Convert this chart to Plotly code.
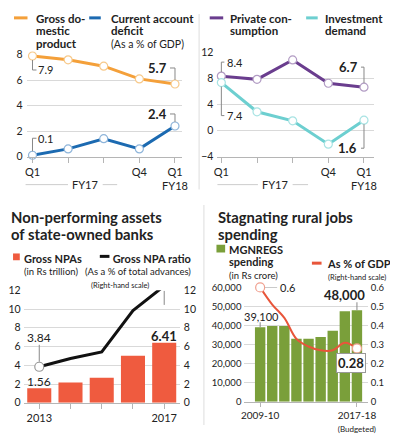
import plotly.graph_objects as go

# ---------------- data ----------------
quarters = ["Q1", "Q2", "Q3", "Q4", "Q1 FY18"]
quarter_ticktext = ["Q1", "", "", "Q4", "Q1<br>FY18"]
gdp_growth = [7.9, 7.6, 7.1, 6.1, 5.7]
current_account_deficit = [0.1, 0.6, 1.4, 0.6, 2.4]
private_consumption = [8.4, 7.9, 10.9, 7.3, 6.7]
investment_demand = [7.4, 2.9, 1.5, -2.1, 1.6]

npa_years = ["2013", "2014", "2015", "2016", "2017"]
npa_ticktext = ["2013", "", "", "", "2017"]
gross_npas = [1.56, 2.16, 2.67, 5.02, 6.41]
gross_npa_ratio = [3.84, 4.72, 5.43, 9.83, 12.47]

mgnregs_years = ["2009-10", "2010-11", "2011-12", "2012-13", "2013-14",
                 "2014-15", "2015-16", "2016-17", "2017-18"]
mgnregs_ticktext = ["2009-10", "", "", "", "", "", "", "",
                    "2017-18<br><span style='font-size:8px'>(Budgeted)</span>"]
mgnregs_spending = [39100, 39800, 39800, 33000, 33000, 34000, 37300, 47500, 48000]
mgnregs_gdp_share = [0.6, 0.51, 0.44, 0.33, 0.29, 0.27, 0.27, 0.31, 0.28]

# ---------------- helpers ----------------
# the page body has an 8px margin, so the figure is drawn 8px in from the top-left
OFF = 8
W, H = 390, 426
FONT = "Lato"
TXT = "#222222"
GRID = "#d9d9d9"
TICKC = "#b5b5b5"

ORANGE = "#f4a03a"
BLUE = "#1c6ab1"
PURPLE = "#6a3d8e"
TEAL = "#6dcfd0"
RED_BAR = "#ef5b3f"
GREEN = "#7a9f3a"
RED_LINE = "#e8553a"


def px(x):
    return (x - OFF) / W


def py(y):
    return 1 - (y - OFF) / H


annotations = []
shapes = []


def text(t, x, y, size=12, bold=False, xanchor="left", color=TXT, yanchor="middle", align="left"):
    if bold:
        t = "<b>" + t + "</b>"
    annotations.append(dict(text=t, x=px(x), y=py(y), xref="paper", yref="paper",
                            xanchor=xanchor, yanchor=yanchor, align=align, showarrow=False,
                            font=dict(family=FONT, size=size, color=color)))


def block(lines, base, x, ytop, xanchor="left", align="left"):
    # multi-line text; line spacing follows the (small) base size, each line sized by a span
    parts = []
    for (t, size, bold) in lines:
        s = "<b>%s</b>" % t if bold else t
        parts.append("<span style='font-size:%gpx'>%s</span>" % (size, s))
    text("<br>".join(parts), x, ytop, base, xanchor=xanchor, yanchor="top", align=align)


def swatch(x0, x1, y, color, width=3):
    shapes.append(dict(type="line", xref="paper", yref="paper",
                       x0=px(x0), x1=px(x1), y0=py(y), y1=py(y),
                       line=dict(color=color, width=width)))


def square(x0, y0, x1, y1, color):
    shapes.append(dict(type="rect", xref="paper", yref="paper",
                       x0=px(x0), x1=px(x1), y0=py(y0), y1=py(y1),
                       fillcolor=color, line=dict(width=0)))


def hline(x0, x1, y, color="#cccccc"):
    shapes.append(dict(type="line", xref="paper", yref="paper", x0=px(x0), x1=px(x1),
                       y0=py(y), y1=py(y), line=dict(color=color, width=1)))


def data_label(t, xv, yv, xref, yref, xanchor, xshift, yshift, size=12, bold=False, **kw):
    if bold:
        t = "<b>" + t + "</b>"
    annotations.append(dict(text=t, x=xv, y=yv, xref=xref, yref=yref, xanchor=xanchor,
                            yanchor="middle", xshift=xshift, yshift=yshift, showarrow=False,
                            font=dict(family=FONT, size=size, color=TXT), **kw))


def leader(xv, yv, xref, yref, segs, color="#888888"):
    # segs: list of (x0, y0, x1, y1) pixel offsets relative to data point (y up)
    for (a, b, c, d) in segs:
        shapes.append(dict(type="line", xref=xref, yref=yref, xsizemode="pixel",
                           ysizemode="pixel", xanchor=xv, yanchor=yv,
                           x0=a, y0=b, x1=c, y1=d, line=dict(color=color, width=1)))


fig = go.Figure()

idx5 = list(range(len(quarters)))

# ---------------- panel 1 ----------------
fig.add_trace(go.Scatter(x=idx5, y=gdp_growth, mode="lines+markers", xaxis="x", yaxis="y",
                         line=dict(color=ORANGE, width=3), cliponaxis=False,
                         marker=dict(size=8, color="white", line=dict(color="#f7c98a", width=1.2))))
fig.add_trace(go.Scatter(x=idx5, y=current_account_deficit, mode="lines+markers", xaxis="x", yaxis="y",
                         line=dict(color=BLUE, width=3), cliponaxis=False,
                         marker=dict(size=8, color="white", line=dict(color="#8fb5da", width=1.2))))

# ---------------- panel 2 ----------------
fig.add_trace(go.Scatter(x=idx5, y=private_consumption, mode="lines+markers", xaxis="x2", yaxis="y2",
                         line=dict(color=PURPLE, width=3), cliponaxis=False,
                         marker=dict(size=8, color="white", line=dict(color="#b29cc4", width=1.2))))
fig.add_trace(go.Scatter(x=idx5, y=investment_demand, mode="lines+markers", xaxis="x2", yaxis="y2",
                         line=dict(color=TEAL, width=3), cliponaxis=False,
                         marker=dict(size=8, color="white", line=dict(color="#a8e3e3", width=1.2))))

# ---------------- panel 3 ----------------
idx_npa = list(range(len(npa_years)))
fig.add_trace(go.Bar(x=idx_npa, y=gross_npas, xaxis="x3", yaxis="y3",
                     marker=dict(color=RED_BAR, line=dict(width=0)), width=0.77))
n3 = len(idx_npa)
fig.add_trace(go.Scatter(x=idx_npa, y=gross_npa_ratio, mode="lines+markers", xaxis="x3", yaxis="y4",
                         line=dict(color="#111111", width=3), cliponaxis=False,
                         marker=dict(size=[9] + [0] * (n3 - 2) + [9],
                                     opacity=[1] + [0] * (n3 - 2) + [1],
                                     color="white", line=dict(color="#999999", width=1.2))))

# ---------------- panel 4 ----------------
idx_m = list(range(len(mgnregs_years)))
fig.add_trace(go.Bar(x=idx_m, y=mgnregs_spending, xaxis="x5", yaxis="y5",
                     marker=dict(color=GREEN, line=dict(width=0)), width=0.86))
n4 = len(idx_m)
fig.add_trace(go.Scatter(x=idx_m, y=mgnregs_gdp_share, mode="lines+markers", xaxis="x5", yaxis="y6",
                         line=dict(color=RED_LINE, width=2, shape="spline", smoothing=1.0),
                         cliponaxis=False,
                         marker=dict(size=[9] + [0] * (n4 - 2) + [9],
                                     opacity=[1] + [0] * (n4 - 2) + [1],
                                     color="white", line=dict(color="#f0a08f", width=1.2))))

qfont = dict(family=FONT, size=11, color=TXT)
numfont = dict(family=FONT, size=10.5, color=TXT)
smallnum = dict(family=FONT, size=9.5, color=TXT)

axis_common = dict(showgrid=False, zeroline=False, fixedrange=True)

layout = dict(
    width=W, height=H, margin=dict(l=0, r=0, t=0, b=0),
    paper_bgcolor="white", plot_bgcolor="white", showlegend=False,
    font=dict(family=FONT, color=TXT),
    # panel 1
    xaxis=dict(domain=[px(22), px(182)], range=[-0.14, 4.19], anchor="y",
               tickvals=idx5, ticktext=quarter_ticktext, ticks="outside", ticklen=5,
               tickcolor=TICKC, showline=True, linecolor=TICKC, linewidth=1, tickfont=qfont,
               **axis_common),
    yaxis=dict(domain=[py(155), py(50)], range=[0, 8], anchor="x", tickvals=[0, 2, 4, 6, 8],
               showgrid=True, gridcolor=GRID, zeroline=False, fixedrange=True, tickfont=numfont,
               ticks="", ticklabelstandoff=4),
    # panel 2
    xaxis2=dict(domain=[px(219), px(381)], range=[-0.11, 4.27], anchor="y2",
                tickvals=idx5, ticktext=quarter_ticktext, ticks="outside", ticklen=5,
                tickcolor=TICKC, showline=True, linecolor=TICKC, linewidth=1, tickfont=qfont,
                **axis_common),
    yaxis2=dict(domain=[py(155), py(48)], range=[-4, 12], anchor="x2", tickvals=[-4, 0, 4, 8, 12],
                showgrid=True, gridcolor=GRID, zeroline=False, fixedrange=True, tickfont=numfont,
                ticks="", ticklabelstandoff=3),
    # panel 3
    xaxis3=dict(domain=[px(18), px(180)], range=[-0.5, 4.5], anchor="y3",
                tickvals=idx_npa, ticktext=npa_ticktext, ticks="outside", ticklen=5,
                tickcolor=TICKC, showline=True, linecolor=TICKC, linewidth=1, tickfont=qfont,
                **axis_common),
    yaxis3=dict(domain=[py(409), py(293)], range=[0, 12], anchor="x3", dtick=2,
                showgrid=True, gridcolor=GRID, zeroline=False, fixedrange=True, tickfont=numfont,
                ticks="", ticklabelstandoff=2),
    yaxis4=dict(domain=[py(409), py(293)], range=[0, 12], anchor="x3", overlaying="y3", side="right",
                dtick=2, showgrid=False, zeroline=False, fixedrange=True, tickfont=numfont,
                ticks="", ticklabelstandoff=3),
    # panel 4
    xaxis5=dict(domain=[px(247), px(375)], range=[-1.3, 8.9], anchor="y5",
                tickvals=[idx_m[0], idx_m[-1]], ticktext=[mgnregs_ticktext[0], mgnregs_ticktext[-1]],
                ticks="outside", ticklen=4, tickfont=dict(family=FONT, size=10, color=TXT),
                tickcolor=TICKC, showline=True, linecolor=TICKC, linewidth=1, **axis_common),
    yaxis5=dict(domain=[py(408), py(290)], range=[0, 60000], anchor="x5", dtick=10000,
                tickformat=",", showgrid=True, gridcolor=GRID, zeroline=False, fixedrange=True,
                tickfont=smallnum, ticks="", ticklabelstandoff=2),
    yaxis6=dict(domain=[py(408), py(290)], range=[0, 0.6], anchor="x5", overlaying="y5", side="right",
                dtick=0.1, showgrid=False, zeroline=False, fixedrange=True,
                tickfont=smallnum, ticks="", ticklabelstandoff=2),
)

# ---------- separators ----------
shapes.append(dict(type="line", xref="paper", yref="paper", x0=px(200), x1=px(200),
                   y0=py(8), y1=py(189), line=dict(color="#dddddd", width=1)))
shapes.append(dict(type="line", xref="paper", yref="paper", x0=px(205), x1=px(205),
                   y0=py(205), y1=py(432), line=dict(color="#dddddd", width=1)))

# ---------- panel 1 legend ----------
swatch(8, 22, 12, ORANGE)
block([("Gross do-", 11.5, True), ("mestic", 11.5, True), ("product", 11.5, True)], 9.5, 29, 4)
swatch(86, 98, 12, BLUE)
block([("Current account", 11.5, True), ("deficit", 11.5, True), ("(As a % of GDP)", 10.5, False)],
      9.5, 107, 4)

# panel 1 value labels
data_label("7.9", 0, gdp_growth[0], "x", "y", "left", 4, -14, 11)
leader(0, gdp_growth[0], "x", "y", [(0, -4, 0, -14), (0, -14, 4, -14)])
data_label("0.1", 0, current_account_deficit[0], "x", "y", "left", 4, 17, 11)
leader(0, current_account_deficit[0], "x", "y", [(0, 4, 0, 17), (0, 17, 4, 17)])
data_label("5.7", 4, gdp_growth[-1], "x", "y", "right", -6, 16, 13, True)
leader(4, gdp_growth[-1], "x", "y", [(-5, 16, 0, 16), (0, 16, 0, 4)])
data_label("2.4", 4, current_account_deficit[-1], "x", "y", "right", -6, 12, 13, True)
leader(4, current_account_deficit[-1], "x", "y", [(-5, 12, 0, 12), (0, 12, 0, 4)])

# FY17 bracket
text("FY17", 82, 184, 11, xanchor="center")
hline(20, 64, 184)
hline(100, 115, 184)

# ---------- panel 2 legend ----------
swatch(211, 225, 12, PURPLE)
block([("Private con-", 11.5, True), ("sumption", 11.5, True)], 9.5, 230, 4)
swatch(311, 323, 12, TEAL)
block([("Investment", 11.5, True), ("demand", 11.5, True)], 9.5, 328, 4)

data_label("8.4", 0, private_consumption[0], "x2", "y2", "left", 4, 14, 11)
leader(0, private_consumption[0], "x2", "y2", [(0, 4, 0, 14), (0, 14, 3, 14)])
data_label("7.4", 0, investment_demand[0], "x2", "y2", "left", 4, -33, 11)
leader(0, investment_demand[0], "x2", "y2", [(0, -4, 0, -33), (0, -33, 3, -33)])
data_label("6.7", 4, private_consumption[-1], "x2", "y2", "right", -4, 20, 13, True)
leader(4, private_consumption[-1], "x2", "y2", [(-3, 20, 0, 20), (0, 20, 0, 4)])
data_label("1.6", 4, investment_demand[-1], "x2", "y2", "right", -5, -28, 13, True)
leader(4, investment_demand[-1], "x2", "y2", [(0, -4, 0, -28), (-3, -28, 0, -28)])

text("FY17", 279, 184, 11, xanchor="center")
hline(219, 261, 184)
hline(297, 313, 184)

# ---------- panel 3 ----------
block([("Non-performing assets", 14.8, True), ("of state-owned banks", 14.8, True)], 13, 3, 206)
square(7, 255, 14, 262, RED_BAR)
block([("Gross NPAs", 11, True), ("(in Rs trillion)", 9.5, False)], 9.5, 16, 251)
swatch(97, 107, 258, "#111111")
block([("Gross NPA ratio", 11, True), ("(As a % of total advances)", 9.5, False)], 9.5, 194, 251,
      xanchor="right", align="right")
text("(Right-hand scale)", 118, 288, 7.5, xanchor="center")

data_label("3.84", 0, gross_npa_ratio[0], "x3", "y4", "center", 0, 29, 12)
leader(0, gross_npa_ratio[0], "x3", "y4", [(0, 5, 0, 22)])
data_label("1.56", 0, gross_npas[0], "x3", "y3", "center", 0, 7, 12)
data_label("6.41", 4, gross_npas[-1], "x3", "y3", "center", 0, 7, 13, True)
data_label("12.47", 4, gross_npa_ratio[-1], "x3", "y4", "center", 0, -27, 13, True)
leader(4, gross_npa_ratio[-1], "x3", "y4", [(0, -5, 0, -19)])

# ---------- panel 4 ----------
block([("Stagnating rural jobs", 14.8, True), ("spending", 14.8, True)], 13, 218, 206)
square(218, 246, 227, 254, GREEN)
block([("MGNREGS", 11, True), ("spending", 11, True), ("(in Rs crore)", 9.5, False)], 9.5, 229, 242)
swatch(317, 327, 265, RED_LINE)
block([("As % of GDP", 11, True), ("(Right-hand scale)", 7.5, False)], 9, 331, 257)

data_label("39,100", 0, mgnregs_spending[0], "x5", "y5", "center", 1, 11, 11)
leader(0, mgnregs_spending[0], "x5", "y5", [(0, 0, 0, 5)])
data_label("48,000", 8, mgnregs_spending[-1], "x5", "y5", "right", 10, 15, 13, True)
leader(8, mgnregs_spending[-1], "x5", "y5", [(0, 0, 0, 8)])
data_label("0.6", 0, mgnregs_gdp_share[0], "x5", "y6", "left", 18, 0, 11)
leader(0, mgnregs_gdp_share[0], "x5", "y6", [(5, 0, 17, 0)])
data_label("0.28", 8, mgnregs_gdp_share[-1], "x5", "y6", "right", 9, -15, 13, True,
           bordercolor="#999999", borderwidth=1, borderpad=1, bgcolor="white")

layout["annotations"] = annotations
layout["shapes"] = shapes
fig.update_layout(**layout)

fig.write_html("out.html")
